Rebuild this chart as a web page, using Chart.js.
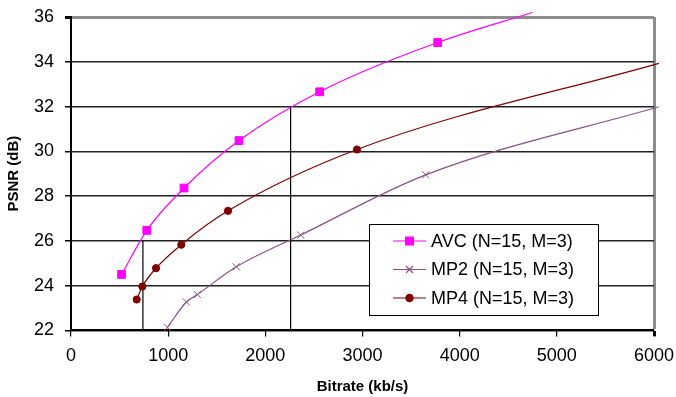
<!DOCTYPE html>
<html>
<head>
<meta charset="utf-8">
<script src="https://cdn.jsdelivr.net/npm/chart.js@4"></script>
<style>
  html, body { margin: 0; padding: 0; background: #fff; }
  #wrap { width: 676px; height: 397px; position: relative; }
</style>
</head>
<body>
<div id="wrap"><canvas id="psnrChart"></canvas></div>
<script>
// bitrate (kb/s) and PSNR (dB); last point of each curve lies just off the plot
const bitrateAvc = [520, 780, 1163, 1729, 2559, 3774, 4750];
const psnrAvc = [24.5, 26.47, 28.36, 30.48, 32.66, 34.86, 36.2];
const bitrateMp2 = [991, 1187, 1300, 1701, 2364, 3650, 6050];
const psnrMp2 = [22.13, 23.27, 23.6, 24.84, 26.26, 28.95, 31.99];
const bitrateMp4 = [676, 734, 875, 1135, 1616, 2943, 6050];
const psnrMp4 = [23.38, 23.96, 24.78, 25.83, 27.34, 30.08, 33.93];
const seriesNames = ['AVC (N=15, M=3)', 'MP2 (N=15, M=3)', 'MP4 (N=15, M=3)'];

// the two vertical guide lines
const guideBitrate = [740, 2260];
const guideTop = [26, 32];

const xTicks = [0, 1000, 2000, 3000, 4000, 5000, 6000];
const yTicks = [22, 24, 26, 28, 30, 32, 34, 36];

function toPoints(xs, ys) {
    return xs.map((x, i) => ({ x: x, y: ys[i] }));
}

function markerSizes(n, r) {
    // no marker on the off-plot point
    return Array.from({ length: n }, (_, i) => (i === n - 1 ? 0 : r));
}

function noEdgePadding(axis) {
    // let layout.padding alone decide the plot edges
    axis.paddingTop = 0;
    axis.paddingBottom = 0;
    axis.paddingLeft = 0;
    axis.paddingRight = 0;
}

const font = "'Liberation Sans', Arial, sans-serif";

const series = [
    { name: seriesNames[0], xs: bitrateAvc, ys: psnrAvc, color: '#ff00ff', style: 'rect', r: 5.5, bw: 1 },
    { name: seriesNames[1], xs: bitrateMp2, ys: psnrMp2, color: '#8c4f83', style: 'crossRot', r: 5, bw: 1 },
    { name: seriesNames[2], xs: bitrateMp4, ys: psnrMp4, color: '#800000', style: 'circle', r: 3.6, bw: 1 }
];

const datasets = series.map(s => ({
    label: s.name,
    data: toPoints(s.xs, s.ys),
    showLine: true,
    borderColor: s.color,
    backgroundColor: s.color,
    borderWidth: 1.2,
    pointStyle: s.style,
    pointRadius: markerSizes(s.xs.length, s.r),
    pointBorderWidth: s.bw,
    pointBorderColor: s.color,
    pointBackgroundColor: s.color,
    cubicInterpolationMode: 'monotone',
    clip: 8,
    order: 1
}));

guideBitrate.forEach((bx, i) => {
    datasets.push({
        label: 'guide' + i,
        data: [{ x: bx, y: yTicks[0] }, { x: bx, y: guideTop[i] }],
        showLine: true,
        borderColor: '#000',
        borderWidth: 1.2,
        pointRadius: 0,
        order: 2
    });
});

// legend box drawn inside the plot, lower right
const boxLegend = {
    id: 'boxLegend',
    afterDatasetsDraw(chart) {
        const ctx = chart.ctx;
        const left = 369, top = 224, w = 229, h = 91;
        ctx.save();
        ctx.fillStyle = '#fff';
        ctx.fillRect(left, top, w, h);
        ctx.strokeStyle = '#000';
        ctx.lineWidth = 1;
        ctx.strokeRect(left + 0.5, top + 0.5, w, h);
        ctx.font = '18px ' + font;
        ctx.textBaseline = 'middle';
        series.forEach((s, i) => {
            const y = top + 17 + i * 28.5;
            ctx.strokeStyle = s.color;
            ctx.fillStyle = s.color;
            ctx.lineWidth = 1.2;
            ctx.beginPath();
            ctx.moveTo(393, y);
            ctx.lineTo(426, y);
            ctx.stroke();
            Chart.helpers.drawPoint(ctx, { pointStyle: s.style, radius: s.r, rotation: 0, borderWidth: s.bw }, 409.5, y);
            ctx.fillStyle = '#000';
            ctx.fillText(s.name, 431, y + 1);
        });
        ctx.restore();
    }
};

new Chart(document.getElementById('psnrChart').getContext('2d'), {
    type: 'scatter',
    data: { datasets: datasets },
    plugins: [boxLegend],
    options: {
        responsive: true,
        maintainAspectRatio: false,
        animation: false,
        layout: { padding: { top: 17, right: 22, left: 5, bottom: 1 } },
        plugins: {
            legend: { display: false },
            tooltip: { enabled: false }
        },
        scales: {
            x: {
                type: 'linear',
                min: xTicks[0],
                max: xTicks[xTicks.length - 1],
                afterBuildTicks: axis => { axis.ticks = xTicks.map(v => ({ value: v })); },
                afterFit: noEdgePadding,
                ticks: {
                    color: '#000',
                    font: { family: font, size: 18 },
                    padding: 9,
                    maxRotation: 0,
                    callback: v => String(v)
                },
                grid: {
                    color: c => (c.tick && c.tick.value === 6000 ? '#8c8c8c' : 'rgba(0,0,0,0)'),
                    lineWidth: c => (c.tick && c.tick.value === 6000 ? 3 : 1.2),
                    tickColor: '#000',
                    tickLength: 6
                },
                border: { display: true, color: '#000', width: 2 },
                title: {
                    display: true,
                    text: 'Bitrate (kb/s)',
                    color: '#000',
                    font: { family: font, size: 15, weight: 'bold' },
                    padding: { top: 2, bottom: 0 }
                }
            },
            y: {
                min: yTicks[0],
                max: yTicks[yTicks.length - 1],
                afterBuildTicks: axis => { axis.ticks = yTicks.map(v => ({ value: v })); },
                afterFit: noEdgePadding,
                ticks: { color: '#000', font: { family: font, size: 18 }, padding: 11, callback: v => String(v) },
                grid: {
                    color: c => (c.tick && c.tick.value === 36 ? '#8c8c8c' : '#222'),
                    lineWidth: c => (c.tick && c.tick.value === 36 ? 3 : 1.5),
                    tickColor: '#000',
                    tickLength: 6
                },
                border: { display: true, color: '#000', width: 2 },
                title: {
                    display: true,
                    text: 'PSNR (dB)',
                    color: '#000',
                    font: { family: font, size: 15, weight: 'bold' },
                    padding: { top: 0, bottom: 0 }
                }
            }
        }
    }
});
</script>
</body>
</html>
